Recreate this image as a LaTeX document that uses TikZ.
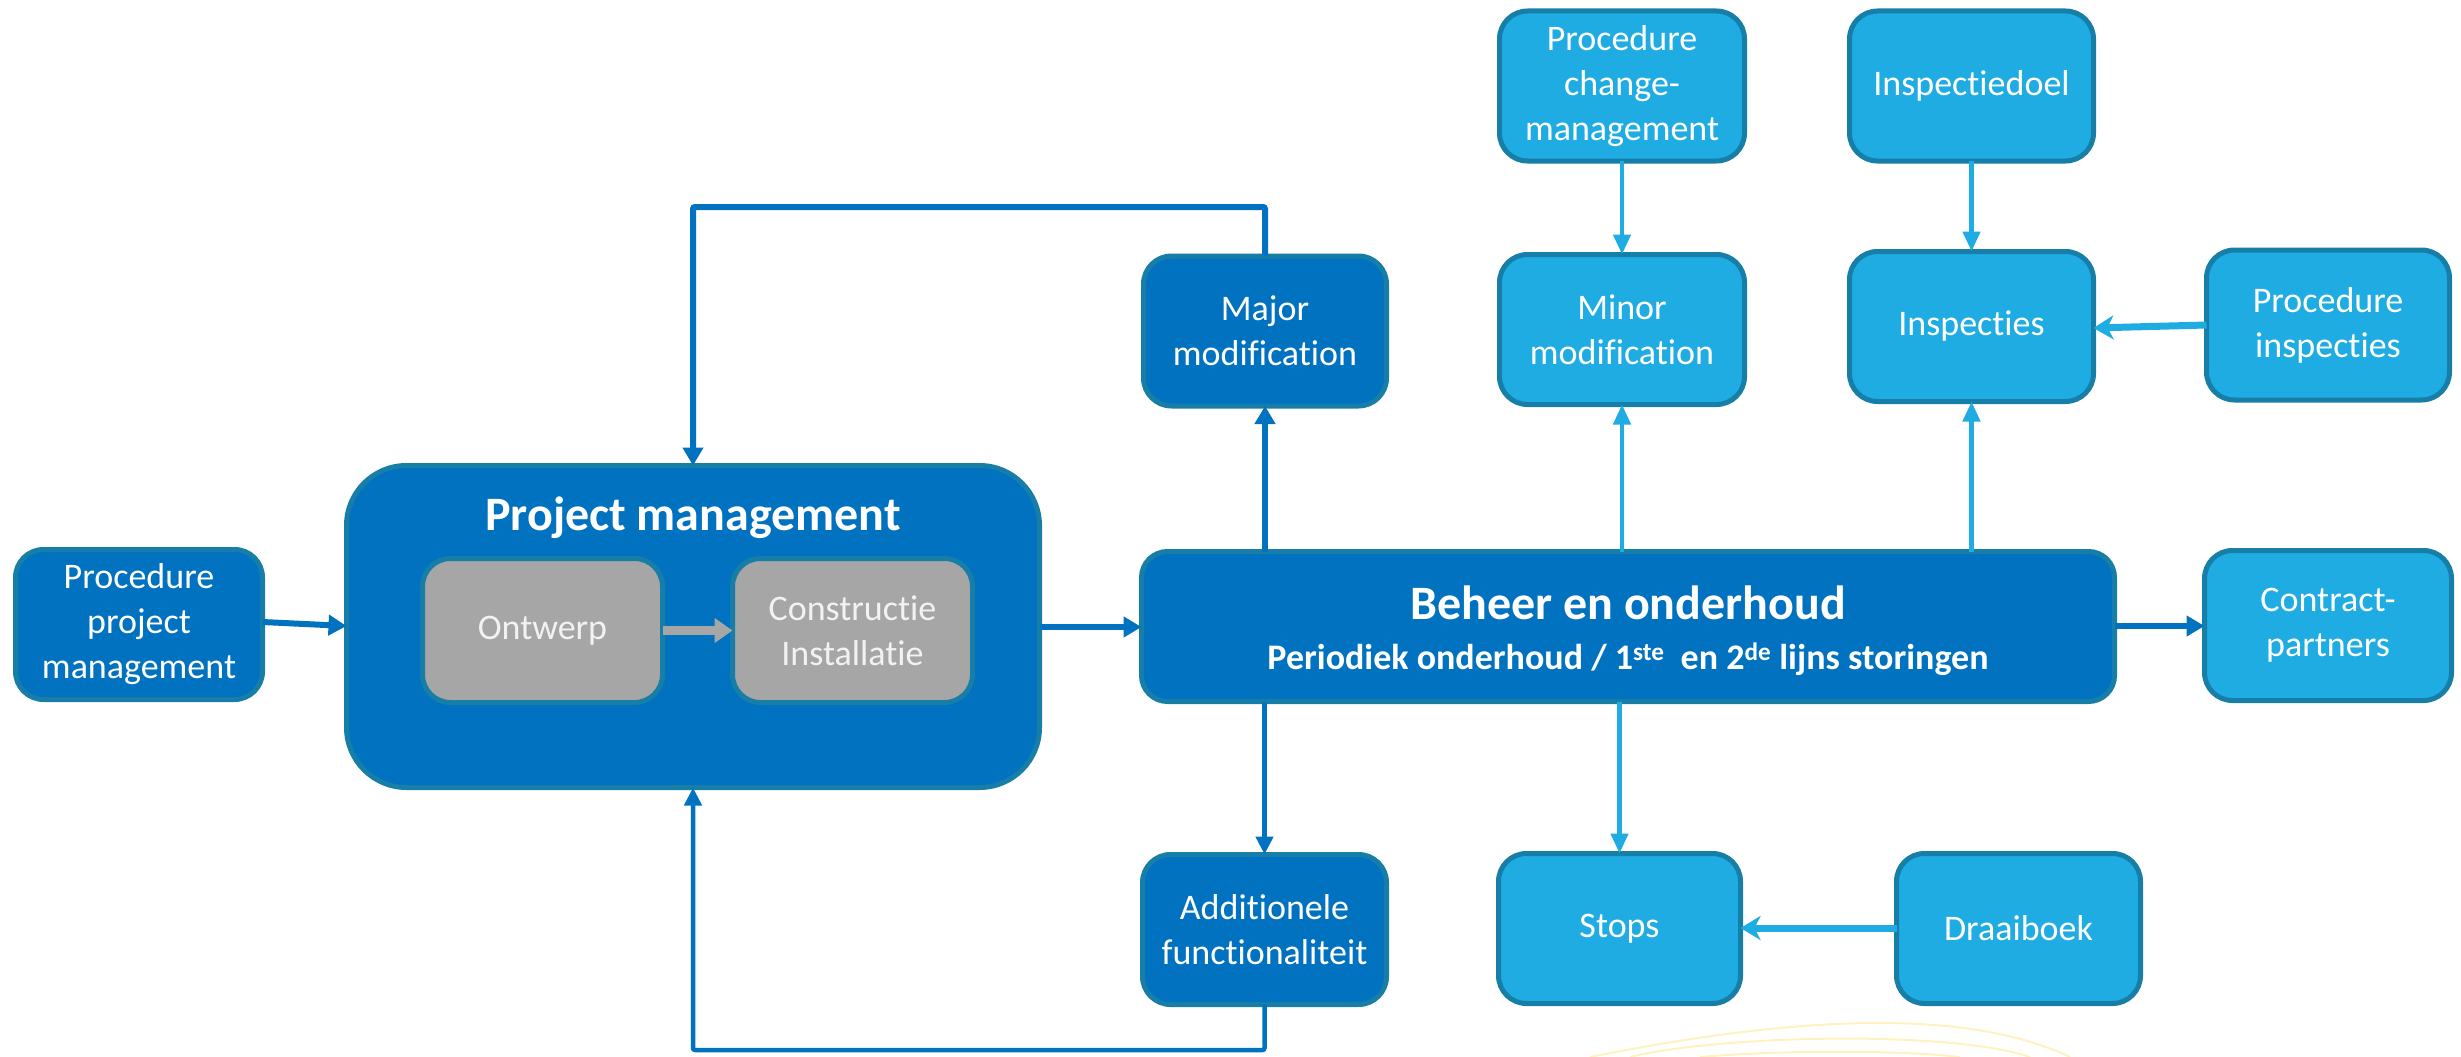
\documentclass[tikz,border=0pt]{standalone}
\usepackage{fontspec}
\setmainfont{Carlito}[Ligatures={NoCommon,NoRequired,NoContextual}]
\usetikzlibrary{arrows.meta}
\definecolor{dkblue}{HTML}{0072BF}
\definecolor{ltblue}{HTML}{1FACE3}
\definecolor{bordc}{HTML}{177EA8}
\definecolor{grayf}{HTML}{A6A6A6}
\definecolor{grayt}{HTML}{F2F2F2}
\begin{document}
\begin{tikzpicture}[x=1pt,y=-1pt,
  every node/.style={inner sep=0pt, outer sep=0pt},
  basebox/.style={draw=bordc, line width=5pt, rounded corners=28pt, align=center, text=white,
    font=\fontsize{36}{45}\selectfont, minimum width=#1-5pt, minimum height=150pt},
  dkbox/.style={basebox=#1, fill=dkblue},
  ltbox/.style={basebox=#1, fill=ltblue},
  grbox/.style={draw=bordc, line width=5pt, rounded corners=28pt, align=center, fill=grayf, text=grayt,
    font=\fontsize{36}{45}\selectfont, minimum width=240pt, minimum height=144pt},
  dkarr/.style={draw=dkblue, line width=6pt, -{Triangle[width=20pt,length=18pt]}},
  dkarrthin/.style={draw=dkblue, line width=4.5pt, -{Triangle[width=17pt,length=18pt]}},
  ltarr/.style={draw=ltblue, line width=4.5pt, -{Triangle[width=17pt,length=20pt]}},
  ltarrh/.style={draw=ltblue, line width=7pt, -{Stealth[width=24pt,length=20pt,inset=6pt]}},
  grarr/.style={draw=grayf, line width=9pt, -{Triangle[width=24pt,length=18pt]}},
  swirl/.style={draw=yellow!70!orange!40, line width=2pt, opacity=0.6}
]
\useasboundingbox (0,0) rectangle (2461,1057);

% yellow faint curves
\draw[swirl] (1590,1057) .. controls (1750,1025) and (1950,1000) .. (2070,1057);
\draw[swirl] (1630,1057) .. controls (1720,1035) and (1950,1030) .. (2030,1057);
\draw[swirl] (1700,1057) .. controls (1780,1050) and (1900,1050) .. (1960,1057);

% nodes
\node[dkbox=252pt] (ppm) at (139,624.5) {Procedure\\project\\management};
\node[draw=bordc, line width=5pt, rounded corners=60pt, fill=dkblue,
      minimum width=693pt, minimum height=322pt] (pm) at (693,626.5) {};
\node[text=white, font=\fontsize{48}{56}\selectfont\bfseries] (pmtitle) at (693,518) {Project management};
\node[grbox] (ontw) at (542.5,630.5) {Ontwerp};
\node[grbox] (constr) at (852.5,630.5) {Constructie\\Installatie};

\node[draw=bordc, line width=5pt, rounded corners=26pt, fill=dkblue, align=center, text=white,
      minimum width=973pt, minimum height=150pt] (beh) at (1628,626.5) {};
\node[text=white, font=\fontsize{48}{54}\selectfont\bfseries] (behtitle) at (1628,603) {Beheer en onderhoud};
\node[text=white, font=\fontsize{36}{42}\selectfont\bfseries] (behsub) at (1628,659)
   {Periodiek onderhoud / 1\textsuperscript{ste}\ \ en 2\textsuperscript{de} lijns storingen};

\node[ltbox=252pt] (contract) at (2328,625.5) {Contract-\\partners};
\node[ltbox=250pt] (pcm) at (1622,86) {Procedure\\change-\\management};
\node[ltbox=249pt] (doel) at (1971.5,86) {Inspectiedoel};
\node[dkbox=248pt] (major) at (1265,331) {Major\\modification};
\node[ltbox=250pt] (minor) at (1622,329.5) {Minor\\modification};
\node[ltbox=249pt] (insp) at (1971.5,326.5) {Inspecties};
\node[ltbox=248pt] (pinsp) at (2328,325) {Procedure\\inspecties};
\node[dkbox=249pt] (add) at (1264.5,929.5) {Additionele\\functionaliteit};
\node[ltbox=247pt] (stops) at (1619.5,928.5) {Stops};
\node[ltbox=249pt] (draai) at (2018.5,928.5) {Draaiboek};

\coordinate (topy) at (0,207);
\coordinate (boty) at (0,1050);

% connectors
\draw[dkarr] (ppm.east |- 0,622) -- (pm.west |- 0,626);
\draw[dkarr] (pm.east |- 0,627) -- (beh.west |- 0,627);
\draw[dkarr] (beh.east |- 0,626) -- (contract.west |- 0,626);
\draw[grarr] (ontw.east) -- (constr.west);

\draw[dkarr] (beh.north -| major) -- (major.south);
\draw[dkarr, rounded corners=2pt] (major.north) -- (major.north |- topy) -| (pm.north);
\draw[dkarrthin] (beh.south -| add) -- (add.north);
\draw[dkarrthin, rounded corners=2pt] (add.south) -- (add.south |- boty) -| (pm.south);

\draw[ltarr] (beh.north -| minor) -- (minor.south);
\draw[ltarr] (beh.north -| insp) -- (insp.south);
\draw[ltarr] (pcm.south) -- (minor.north);
\draw[ltarr] (doel.south) -- (insp.north);
\draw[ltarr] (beh.south -| stops) -- (stops.north);
\draw[ltarrh] (pinsp.west |- 0,325) -- (insp.east |- 0,328);
\draw[ltarrh] (draai.west |- 0,928) -- (stops.east |- 0,928);
\end{tikzpicture}
\end{document}
